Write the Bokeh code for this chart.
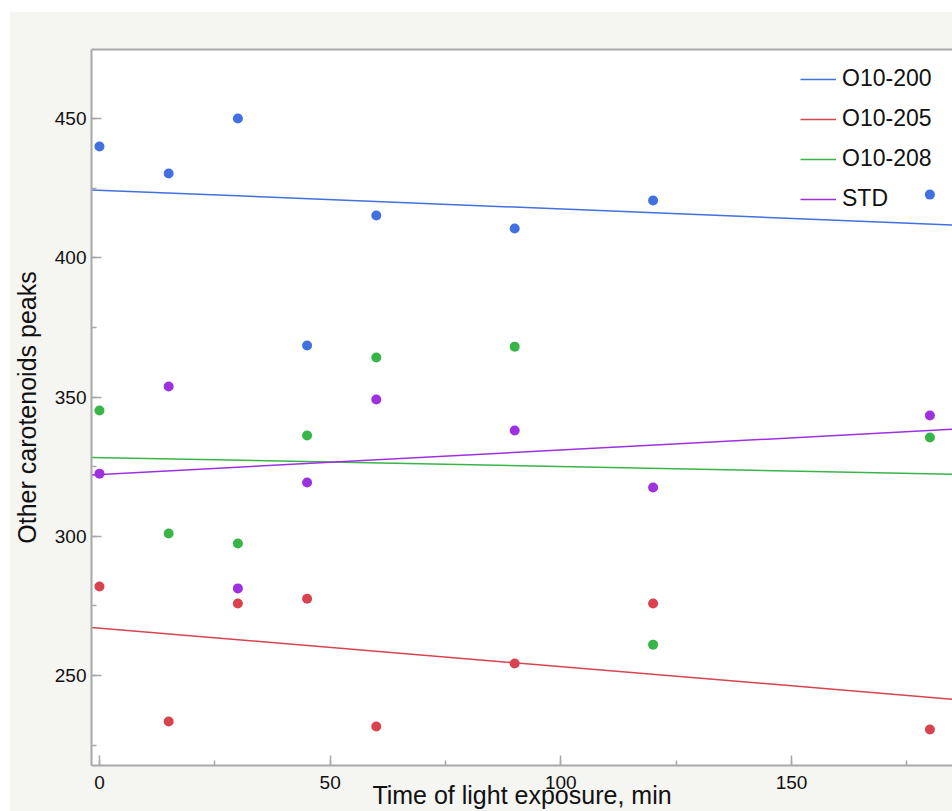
import numpy as np
from bokeh.plotting import figure
from bokeh.models import (Range1d, SingleIntervalTicker, LinearAxis, FixedTicker,
                          Legend, LegendItem, Spacer, Column, Row)
from bokeh.embed import file_html
from bokeh.resources import INLINE

# ---- data ----
times = [0, 15, 30, 45, 60, 90, 120, 180]
series_names = ["O10-200", "O10-205", "O10-208", "STD"]
o10_200 = [440.0, 430.3, 450.0, 368.5, 415.2, 410.5, 420.6, 422.7]
o10_205 = [282.0, 233.5, 275.9, 277.6, 231.7, 254.3, 275.9, 230.6]
o10_208 = [345.2, 301.0, 297.4, 336.2, 364.2, 368.1, 261.1, 335.5]
std = [322.5, 353.8, 281.3, 319.3, 349.1, 338.0, 317.5, 343.4]
colors = ["#4170e0", "#d8434f", "#38b547", "#9d31e0"]

x_title = "Time of light exposure, min"
y_title = "Other carotenoids peaks"

FONT = "Liberation Sans"
AXIS_GREY = "#a8a8a8"
BG = "#f5f5f2"

xr = Range1d(-1.73, 184.9)
yr = Range1d(217.7, 474.8)

p = figure(width=943, height=800, x_range=xr, y_range=yr,
           output_backend="svg", toolbar_location=None,
           min_border_left=82, min_border_top=38, min_border_bottom=46, min_border_right=0,
           x_axis_type=None, y_axis_type=None)
p.background_fill_color = "white"
p.border_fill_color = BG
p.outline_line_color = None
p.xgrid.visible = False
p.ygrid.visible = False

def style_axis(ax):
    ax.axis_line_color = AXIS_GREY
    ax.axis_line_width = 2
    ax.major_tick_line_color = AXIS_GREY
    ax.minor_tick_line_color = AXIS_GREY
    ax.major_tick_line_width = 1.5
    ax.minor_tick_line_width = 1.5
    ax.major_tick_in = 10
    ax.major_tick_out = 0
    ax.minor_tick_in = 5
    ax.minor_tick_out = 0
    ax.major_label_text_font = FONT
    ax.major_label_text_font_size = "19px"
    ax.major_label_text_color = "#111111"
    ax.axis_label_text_font = FONT
    ax.axis_label_text_font_size = "25px"
    ax.axis_label_text_font_style = "normal"
    ax.axis_label_text_color = "#111111"

xaxis = LinearAxis(ticker=SingleIntervalTicker(interval=50, num_minor_ticks=2))
style_axis(xaxis)
xaxis.major_label_standoff = 10
xaxis.axis_label = x_title
xaxis.axis_label_standoff = -11
p.add_layout(xaxis, "below")

yaxis = LinearAxis(ticker=SingleIntervalTicker(interval=50, num_minor_ticks=2))
style_axis(yaxis)
yaxis.major_label_standoff = 5
yaxis.axis_label = y_title
yaxis.axis_label_standoff = 11
p.add_layout(yaxis, "left")

top = LinearAxis(ticker=FixedTicker(ticks=[]))
top.axis_line_color = AXIS_GREY
top.axis_line_width = 2
top.major_tick_line_color = None
top.minor_tick_line_color = None
top.major_label_text_font_size = "0px"
p.add_layout(top, "above")

xs = np.array(times, dtype=float)
x_ends = np.array([xr.start, xr.end])
items = []
for name, ys, col in zip(series_names, [o10_200, o10_205, o10_208, std], colors):
    slope, icpt = np.polyfit(xs, np.array(ys), 1)
    ln = p.line(x_ends, icpt + slope * x_ends, line_color=col, line_width=1.5)
    p.scatter(times, ys, size=10, fill_color=col, line_color=None)
    items.append(LegendItem(label=name, renderers=[ln]))

legend = Legend(items=items, location="top_right")
legend.border_line_color = None
legend.background_fill_alpha = 0
legend.label_text_font = FONT
legend.label_text_font_size = "23px"
legend.label_text_color = "#111111"
legend.glyph_width = 36
legend.glyph_height = 26
legend.label_height = 26
legend.label_width = 94
legend.label_standoff = 6
legend.spacing = 13
legend.margin = 16
legend.padding = 10
p.add_layout(legend)

layout = Row(Spacer(width=9, height=811),
             Column(Spacer(height=11, width=943), p, spacing=0),
             spacing=0)
open("out.html", "w").write(file_html(layout, INLINE))
